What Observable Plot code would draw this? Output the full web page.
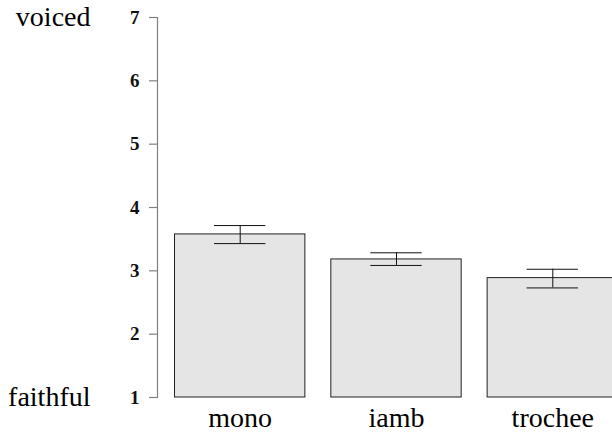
<!DOCTYPE html>
<html>
<head>
<meta charset="utf-8">
<script src="https://cdn.jsdelivr.net/npm/d3@7"></script>
<script src="https://cdn.jsdelivr.net/npm/@observablehq/plot@0.6"></script>
<style>
  html, body { margin: 0; padding: 0; background: #fff; overflow: hidden; }
  svg { font-family: "Liberation Serif", "DejaVu Serif", serif; }
</style>
</head>
<body>
<div id="chart"></div>
<script>
const categories = ["mono", "iamb", "trochee"];
const means = [3.575, 3.18, 2.885];
const lower = [3.43, 3.085, 2.73];
const upper = [3.715, 3.285, 3.025];
const yTicks = [1, 2, 3, 4, 5, 6, 7];
const endLabels = [{y: 7, label: "voiced"}, {y: 1, label: "faithful"}];

const data = categories.map((c, i) => ({cat: c, mean: means[i], lo: lower[i], hi: upper[i]}));

const chart = Plot.plot({
  width: 612,
  height: 432,
  marginTop: 17,
  marginBottom: 35,
  marginLeft: 157,
  marginRight: -23,
  style: {fontFamily: "'Liberation Serif', 'DejaVu Serif', serif", background: "#fff", overflow: "visible"},
  x: {domain: categories, paddingInner: 0.166, paddingOuter: 0.112, round: false, label: null},
  y: {domain: [1, 7], label: null},
  marks: [
    Plot.barY(data, {x: "cat", y1: 1, y2: "mean", fill: "#e5e5e5", stroke: "#222", strokeWidth: 1}),
    Plot.ruleX(data, {x: "cat", y1: "lo", y2: "hi", stroke: "#111", strokeWidth: 1}),
    Plot.tickY(data, {x: "cat", y: "lo", stroke: "#111", strokeWidth: 1, insetLeft: 39.5, insetRight: 39.5}),
    Plot.tickY(data, {x: "cat", y: "hi", stroke: "#111", strokeWidth: 1, insetLeft: 39.5, insetRight: 39.5}),
    Plot.axisY({ticks: yTicks, tickSize: 8, stroke: "#808080", strokeOpacity: 1, strokeWidth: 1.2, tickFormat: () => ""}),
    Plot.text(yTicks, {y: (d) => d, text: (d) => String(d), frameAnchor: "left", textAnchor: "end", dx: -18, fontSize: 19, fontWeight: "bold", fill: "#111"}),
    Plot.frame({anchor: "left", stroke: "#808080", strokeWidth: 1.2}),
    Plot.axisX({tickSize: 0, tickPadding: 10, fontSize: 28, fill: "#000", label: null}),
    Plot.text(endLabels, {y: "y", text: "label", frameAnchor: "left", textAnchor: "end", dx: -67, fontSize: 28, fill: "#000"})
  ]
});
document.getElementById("chart").appendChild(chart);
</script>
</body>
</html>
